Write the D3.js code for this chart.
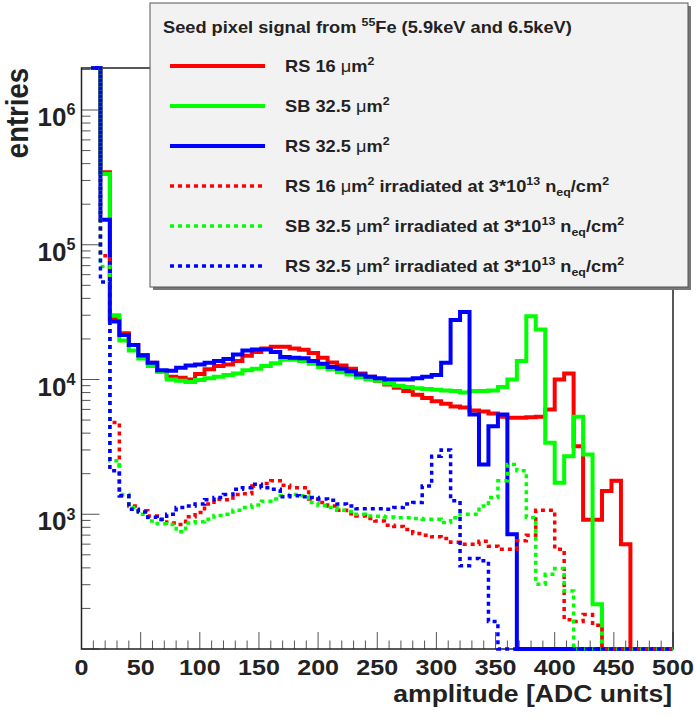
<!DOCTYPE html>
<html>
<head>
<meta charset="utf-8">
<script src="https://cdn.jsdelivr.net/npm/d3@7"></script>
<style>
body { margin: 0; background: #fff; }
text { font-family: "Liberation Sans", Arial, Helvetica, sans-serif; font-weight: bold; fill: #222; }
</style>
</head>
<body>
<div class="chart"></div>
<script>
var svgWidth = 696;
var svgHeight = 718;

// frame of the plot pad
var frame = { left: 81.5, right: 673, top: 68, bottom: 649 };
var stretch = 1.14; // the original picture is a bit wider than tall

// histogram bins: 8 ADC wide, first filled bin starts at 8
var binWidth = 8;
var binLow = d3.range(8, 500, binWidth);

// seed pixel spectra, entries per bin (0 = empty)
var rs16 = [2.5e6, 3.45e5, 2.8e4, 2.2e4, 1.8e4, 1.52e4, 1.33e4, 1.15e4, 1.05e4, 1.03e4,
    1.0e4, 1.1e4, 1.19e4, 1.26e4, 1.29e4, 1.37e4, 1.5e4, 1.6e4, 1.7e4, 1.75e4,
    1.75e4, 1.7e4, 1.66e4, 1.57e4, 1.45e4, 1.34e4, 1.27e4, 1.2e4, 1.11e4, 1.05e4,
    9.8e3, 9.2e3, 8.7e3, 8.2e3, 7.7e3, 7.3e3, 6.9e3, 6.6e3, 6.3e3, 6.2e3,
    5.9e3, 5.8e3, 5.6e3, 5.3e3, 5.2e3, 5.2e3, 5.25e3, 5.3e3, 6.0e3, 1.0e4,
    1.11e4, 3.2e3, 910, 910, 1490, 1770, 600, 0, 0, 0, 0, 0];
var sb325 = [2.5e6, 3.35e5, 3.0e4, 1.95e4, 1.64e4, 1.43e4, 1.26e4, 1.14e4, 1.0e4, 9.8e3,
    9.6e3, 9.9e3, 1.02e4, 1.05e4, 1.08e4, 1.11e4, 1.17e4, 1.2e4, 1.26e4, 1.32e4,
    1.4e4, 1.4e4, 1.37e4, 1.31e4, 1.24e4, 1.19e4, 1.13e4, 1.09e4, 1.04e4, 1.0e4,
    9.8e3, 9.35e3, 9.0e3, 8.8e3, 8.6e3, 8.5e3, 8.4e3, 8.3e3, 8.2e3, 8.0e3,
    8.2e3, 8.2e3, 8.3e3, 8.8e3, 1.0e4, 1.37e4, 2.95e4, 2.35e4, 3.4e3, 1.71e3,
    2.7e3, 5.3e3, 2.78e3, 215, 0, 0, 0, 0, 0, 0, 0, 0];
var rs325 = [2.5e6, 1.53e5, 2.7e4, 2.14e4, 1.8e4, 1.51e4, 1.33e4, 1.17e4, 1.16e4, 1.22e4,
    1.27e4, 1.29e4, 1.33e4, 1.37e4, 1.42e4, 1.53e4, 1.64e4, 1.67e4, 1.67e4, 1.6e4,
    1.47e4, 1.45e4, 1.44e4, 1.37e4, 1.31e4, 1.24e4, 1.2e4, 1.15e4, 1.09e4, 1.05e4,
    1.02e4, 1.0e4, 1.0e4, 1.0e4, 1.02e4, 1.05e4, 1.08e4, 1.33e4, 2.76e4, 3.17e4,
    5.5e3, 2.34e3, 4.5e3, 5.5e3, 710, 0, 0, 0, 0, 0,
    0, 0, 0, 0, 0, 0, 0, 0, 0, 0, 0, 0];
var rs16Irr = [2.5e6, 8.3e4, 4.8e3, 1.37e3, 1.15e3, 1.06e3, 970, 910, 860, 840,
    960, 1.03e3, 1.19e3, 1.29e3, 1.28e3, 1.4e3, 1.42e3, 1.62e3, 1.69e3, 1.77e3,
    1.64e3, 1.57e3, 1.57e3, 1.3e3, 1.22e3, 1.15e3, 1.07e3, 1.01e3, 970, 930,
    890, 830, 810, 770, 720, 700, 680, 660, 620, 600,
    600, 630, 580, 550, 550, 635, 700, 1.07e3, 1.07e3, 550,
    165, 160, 180, 150, 0, 0, 0, 0, 0, 0, 0, 0];
var sb325Irr = [2.5e6, 6.9e4, 2.5e3, 1.4e3, 1.12e3, 1.0e3, 890, 850, 840, 740,
    860, 880, 920, 980, 1.0e3, 1.07e3, 1.12e3, 1.17e3, 1.25e3, 1.3e3,
    1.37e3, 1.4e3, 1.37e3, 1.22e3, 1.16e3, 1.12e3, 1.07e3, 1.05e3, 1.0e3, 970,
    965, 955, 944, 944, 930, 920, 920, 870, 944, 1.0e3,
    1.0e3, 1.15e3, 1.33e3, 1.77e3, 2.34e3, 2.1e3, 945, 303, 359, 396,
    270, 0, 0, 0, 0, 0, 0, 0, 0, 0, 0, 0];
var rs325Irr = [2.5e6, 5.3e4, 2.1e3, 1.37e3, 1.09e3, 1.04e3, 950, 920, 1.0e3, 1.12e3,
    1.15e3, 1.19e3, 1.28e3, 1.33e3, 1.4e3, 1.53e3, 1.57e3, 1.67e3, 1.57e3, 1.53e3,
    1.35e3, 1.37e3, 1.35e3, 1.33e3, 1.3e3, 1.27e3, 1.19e3, 1.15e3, 1.1e3, 1.1e3,
    1.1e3, 1.09e3, 1.12e3, 1.19e3, 1.22e3, 1.62e3, 2.7e3, 3.0e3, 1.26e3, 414,
    470, 452, 160, 0, 0, 0, 0, 0, 0, 0,
    0, 0, 0, 0, 0, 0, 0, 0, 0, 0, 0, 0];

var series = [
    { values: rs16, color: "#ff0000", dotted: false, label: "RS 16 #mum^{2}" },
    { values: sb325, color: "#00ff00", dotted: false, label: "SB 32.5 #mum^{2}" },
    { values: rs325, color: "#0000ff", dotted: false, label: "RS 32.5 #mum^{2}" },
    { values: rs16Irr, color: "#ff0000", dotted: true, label: "RS 16 #mum^{2} irradiated at 3*10^{13} n_{eq}/cm^{2}" },
    { values: sb325Irr, color: "#00ff00", dotted: true, label: "SB 32.5 #mum^{2} irradiated at 3*10^{13} n_{eq}/cm^{2}" },
    { values: rs325Irr, color: "#0000ff", dotted: true, label: "RS 32.5 #mum^{2} irradiated at 3*10^{13} n_{eq}/cm^{2}" }
];
var legendTitle = "Seed pixel signal from ^{55}Fe (5.9keV and 6.5keV)";

var xTicksMajor = d3.range(0, 501, 50);
var xTicksMinor = d3.range(0, 501, 10);
var yDecades = [1e3, 1e4, 1e5, 1e6];
var yMin = 100, yMax = 2.05e6;

var svg = d3.select(".chart")
    .append("svg")
    .attr("width", svgWidth)
    .attr("height", svgHeight);

var xScale = d3.scaleLinear().domain([0, 500]).range([frame.left, frame.right]);
var yScale = d3.scaleLog().domain([yMin, yMax]).range([frame.bottom, frame.top]);

// ROOT-like text with ^{} _{} and #mu
function richText(sel, str, fs, supRatio) {
    var parts = str.split(/(\^\{[^}]*\}|_\{[^}]*\}|#mu)/).filter(function(p) { return p.length; });
    var shift = 0;
    parts.forEach(function(p) {
        var t = sel.append("tspan"), target = 0, txt = p, size = fs;
        if (p[0] === "^") { txt = p.slice(2, -1); target = -0.42 * fs; size = supRatio * fs; }
        else if (p[0] === "_") { txt = p.slice(2, -1); target = 0.22 * fs; size = supRatio * fs; }
        else if (p === "#mu") { txt = "\u03bc"; t.style("font-weight", "normal"); }
        t.attr("dy", target - shift).style("font-size", size + "px").text(txt);
        shift = target;
    });
}

function addText(x, y, str, fs, anchor, rotate, sx, supRatio) {
    var tr = "translate(" + x + "," + y + ") scale(" + (sx || stretch) + ",1)" + (rotate ? " rotate(" + rotate + ")" : "");
    var t = svg.append("text")
        .attr("transform", tr)
        .attr("text-anchor", anchor)
        .style("font-size", fs + "px");
    richText(t, str, fs, supRatio || 0.68);
    return t;
}

// ticks
var axisG = svg.append("g").attr("stroke", "#555").attr("stroke-width", 1);
xTicksMinor.forEach(function(v) {
    var len = (v % 50 === 0) ? 17 : 8.5;
    axisG.append("line")
        .attr("x1", xScale(v)).attr("x2", xScale(v))
        .attr("y1", frame.bottom).attr("y2", frame.bottom - len);
});
d3.range(2, 7).forEach(function(e) {
    for (var m = 1; m < 10; m++) {
        var v = m * Math.pow(10, e);
        if (v < yMin || v > yMax) continue;
        var len = (m === 1) ? 18 : 9;
        axisG.append("line")
            .attr("x1", frame.left).attr("x2", frame.left + len)
            .attr("y1", yScale(v)).attr("y2", yScale(v));
    }
});

// frame
svg.append("rect")
    .attr("x", frame.left).attr("y", frame.top)
    .attr("width", frame.right - frame.left)
    .attr("height", frame.bottom - frame.top)
    .attr("fill", "none").attr("stroke", "#222").attr("stroke-width", 1.5);

// tick labels
xTicksMajor.forEach(function(v) {
    addText(xScale(v), 675, String(v), 22, "middle");
});
yDecades.forEach(function(v) {
    addText(75.5, yScale(v) + 16, "10^{" + Math.round(Math.log10(v)) + "}", 25.5, "end", 0, 1.02, 0.62);
});

// axis titles
addText(672, 702, "amplitude [ADC units]", 23.3, "end");
addText(28, 68, "entries", 27.5, "end", -90);

// histograms
function yPix(v) {
    if (v <= yMin) return yScale(yMin);
    return Math.max(frame.top, yScale(Math.min(v, yMax)));
}
function histPoints(vals) {
    var pts = [];
    vals.forEach(function(v, i) {
        var x0 = binLow[i], x1 = Math.min(binLow[i] + binWidth, 500);
        pts.push([xScale(x0), yPix(v)], [xScale(x1), yPix(v)]);
    });
    return pts;
}
var line = d3.line();
series.forEach(function(s) {
    svg.append("path")
        .attr("d", line(histPoints(s.values)))
        .attr("fill", "none")
        .attr("stroke", s.color)
        .attr("stroke-width", s.dotted ? 3.5 : 4)
        .attr("stroke-dasharray", s.dotted ? "4,4" : null)
        .attr("stroke-linejoin", "miter");
});

// legend
var lg = { x: 150, y: 3, w: 538, h: 284 };
svg.append("rect")
    .attr("x", lg.x + 3).attr("y", lg.y + 3)
    .attr("width", lg.w).attr("height", lg.h)
    .attr("fill", "#777");
svg.append("rect")
    .attr("x", lg.x).attr("y", lg.y)
    .attr("width", lg.w).attr("height", lg.h)
    .attr("fill", "#f2f2f2").attr("stroke", "#555").attr("stroke-width", 1);
addText(163, 33, legendTitle, 16, "start");
series.forEach(function(s, i) {
    var cy = 66 + i * 40;
    svg.append("line")
        .attr("x1", 170).attr("x2", 265)
        .attr("y1", cy).attr("y2", cy)
        .attr("stroke", s.color)
        .attr("stroke-width", s.dotted ? 3.5 : 4)
        .attr("stroke-dasharray", s.dotted ? "4,4" : null);
    addText(285, cy + 6, s.label, 16, "start");
});
</script>
</body>
</html>
